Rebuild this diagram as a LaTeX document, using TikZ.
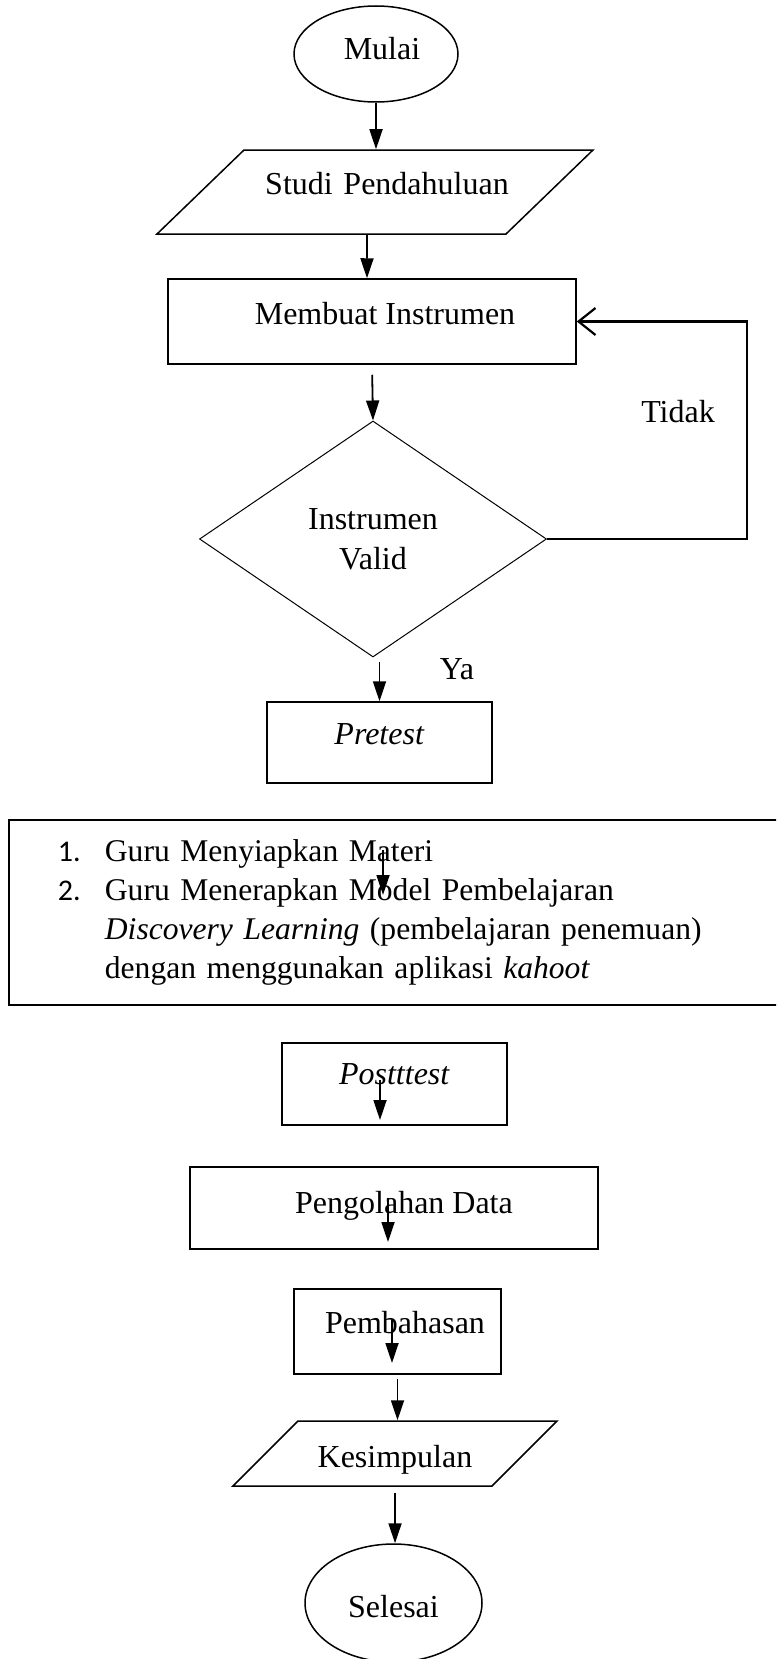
\documentclass[tikz,border=0pt]{standalone}
\usepackage{fontspec}
\setmainfont{Liberation Serif}
\newfontfamily\numfont{Carlito}
\usepackage{tikz}
\usetikzlibrary{positioning, arrows.meta, shapes.geometric}

\newcommand{\listnum}[1]{\hspace*{24.5pt}\makebox[23.5pt][l]{\numfont\fontsize{15}{19.5}\selectfont #1}}
\newcommand{\listcont}{\hspace*{48pt}}

\begin{document}
\begin{tikzpicture}[
    x=0.5pt, y=-0.5pt,
    font=\fontsize{16}{20}\selectfont,
    shapebox/.style={draw, line width=0.75pt, inner sep=0pt, text height=0pt, text depth=0pt},
    process/.style={shapebox, rectangle},
    terminal/.style={shapebox, ellipse},
    io/.style={shapebox, trapezium, align=center},
    decision/.style={diamond, draw, line width=0.5pt, align=center, inner sep=0pt},
    listbox/.style={draw, line width=0.9pt, inner sep=0pt, align=left, font=\fontsize{15.8}{19.5}\selectfont},
    ar/.style={-{Triangle[length=10pt, width=6.5pt]}, line width=0.9pt},
    back/.style={-{Straight Barb[length=8.5pt, width=13.5pt]}, line width=1.1pt}]
  \useasboundingbox (0,0) rectangle (776,1659);
  \clip (0,0) rectangle (776,1659);

  \node[terminal, minimum width=82pt, minimum height=48pt, text height=6pt] (mulai) at (376,54) {\hspace*{6pt}Mulai};
  \node[io, trapezium left angle=44, trapezium right angle=136, text width=131pt, text height=22pt, text depth=20pt] (studi) at (375,192) {\makebox[0pt]{\hspace*{12pt}Studi Pendahuluan}};
  \node[process, minimum width=204pt, minimum height=42.5pt, text height=2.5pt] (buat) at (372,321.5) {\hspace*{13pt}Membuat Instrumen};
  \node[decision, minimum width=173.5pt, minimum height=118pt] (valid) at (373,539) {Instrumen\\Valid};
  \node[process, minimum width=112.5pt, minimum height=40.5pt, text height=2pt] (pre) at (379.5,742.5) {\textit{Pretest}};
  \node[listbox, anchor=west, minimum width=406pt, text width=406pt, minimum height=92.5pt] (kegiatan) at (8,912.5)
    {\listnum{1.}Guru Menyiapkan Materi\\
     \listnum{2.}Guru Menerapkan Model Pembelajaran\\
     \listcont\textit{Discovery Learning} (pembelajaran penemuan)\\
     \listcont dengan menggunakan aplikasi \textit{kahoot}};
  \node[process, minimum width=112.5pt, minimum height=41pt] (post) at (394.5,1084) {\textit{Postttest}};
  \node[process, minimum width=204pt, minimum height=41pt, text height=5pt] (olah) at (394,1208) {\hspace*{10pt}Pengolahan Data};
  \node[process, minimum width=103.5pt, minimum height=42.5pt, text height=1.5pt] (bahas) at (397.5,1331.5) {\hspace*{7.5pt}Pembahasan};
  \node[io, trapezium left angle=45, trapezium right angle=135, text width=97pt, text height=23pt, text depth=9.5pt] (simpul) at (395,1453.5) {Kesimpulan};
  \node[terminal, minimum width=88.5pt, minimum height=59pt, text height=14pt] (selesai) at (393.5,1603) {Selesai};
  \node[anchor=base] (tidak) at (678,422) {Tidak};
  \node[anchor=base] (ya) at (457,679) {Ya};
  \coordinate (kanan) at (747,321.5);

  \draw[ar] (mulai.south) -- (mulai.south |- studi.north);
  \draw[ar] ([xshift=-4pt]studi.south) -- ([xshift=-2.5pt]buat.north);
  \draw[ar, shorten <=5pt] (buat.south) -- (valid.north);
  \draw[ar, shorten <=2pt] (valid.south -| pre.north) -- (pre.north);
  \draw[back] (valid.east) -| (kanan) -- (buat.east);
  % arrows sitting inside the boxes
  \foreach \x/\ya/\yb [count=\i] in {383/850/895, 380/1080/1120, 388/1198/1242, 392/1320/1363} {
    \coordinate (s\i) at (\x,\ya); \coordinate (t\i) at (\x,\yb);
    \draw[ar] (s\i) -- (t\i);
  }
  \draw[ar, shorten <=2pt] (bahas.south) -- (bahas.south |- simpul.north);
  \draw[ar, shorten <=3pt] (simpul.south) -- (simpul.south |- selesai.north);
\end{tikzpicture}
\end{document}
